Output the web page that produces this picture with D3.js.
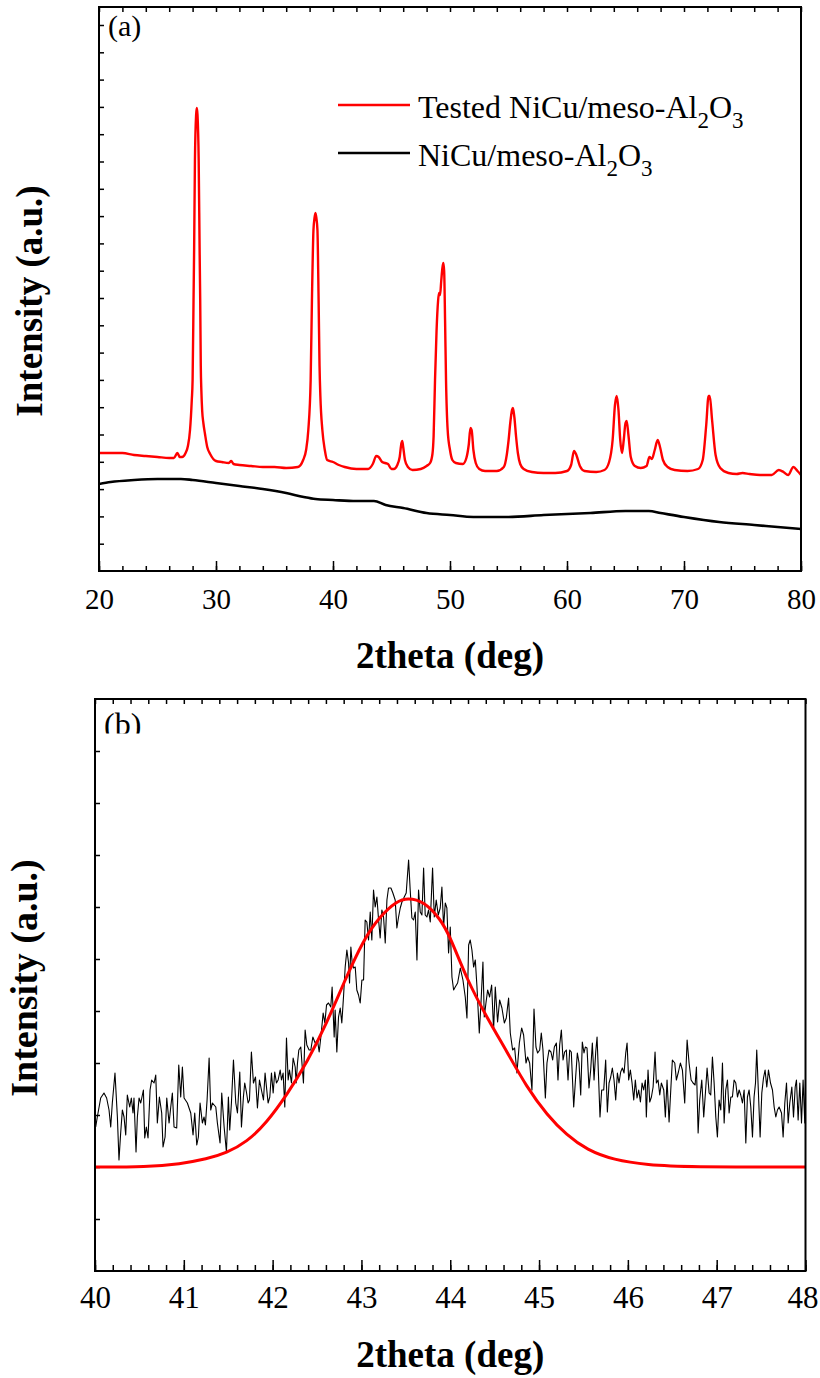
<!DOCTYPE html>
<html><head><meta charset="utf-8">
<script src="https://cdn.jsdelivr.net/npm/d3@7"></script>
<style>
body{margin:0;background:#fff}
svg{display:block}
text{font-family:"Liberation Serif","Times New Roman",serif;fill:#000}
</style>
</head><body>
<svg id="chart" width="820" height="1378"></svg>
<script>
// ---------- DATA ----------
const xTicksA = [20, 30, 40, 50, 60, 70, 80];
const xTicksB = [40, 41, 42, 43, 44, 45, 46, 47, 48];
const legendLabels = [
  {main: "Tested NiCu/meso-Al", color: "#ff0000"},
  {main: "NiCu/meso-Al", color: "#000000"}
];
const panelLabels = ["(a)", "(b)"];
const axisTitleX = "2theta (deg)";
const axisTitleY = "Intensity (a.u.)";

// Panel (a): XRD patterns, [2theta (deg), intensity (a.u.)]
const testedPattern = [
  [20.0,118],[21.0,118],[22.0,118],[23.0,116],[24.0,115],[25.0,114],[26.0,113],[26.4,113],[26.7,118],[26.9,114],
  [27.1,114],[27.4,118],[27.6,125],[27.78,141],[27.93,171],[28.0,191],[28.08,271],[28.13,321],[28.2,411],[28.3,456],
  [28.36,463],[28.42,456],[28.52,411],[28.6,321],[28.65,271],[28.7,205],[28.75,180],[28.82,160],[28.92,148],[29.06,137],
  [29.25,124],[29.5,117],
  [30.0,110],[30.5,109],[31.1,108],[31.3,110],[31.5,107],[32.0,106],[33.0,105],[34.0,104],[35.0,104],[36.0,103],
  [37.0,104],[37.45,111],[37.7,121],[37.89,141],[38.09,191],[38.2,271],[38.33,341],[38.42,353],[38.5,358],[38.58,353],
  [38.67,341],[38.77,271],[38.85,205],[38.92,175],[39.09,141],[39.3,121],[39.5,111],[40.0,109],[40.5,106],[41.0,104],[42.0,102],
  [43.0,102],[43.4,107],[43.7,115],[43.9,114],[44.2,109],[44.45,108],[44.7,107],[45.0,102],[45.2,102],[45.5,106],
  [45.7,114],[45.85,128],[45.92,130],[46.0,124],[46.15,111],[46.4,104],[46.8,101],[47.5,102],[48.0,105],[48.3,108],
  [48.5,117],[48.6,135],[48.72,191],[48.85,240],[48.98,270],[49.06,278],[49.15,276],[49.25,290],[49.35,303],[49.43,308],
  [49.5,300],[49.58,250],[49.66,191],[49.8,141],[50.0,121],[50.2,111],[50.5,108],[51.1,107],[51.4,113],[51.6,126],
  [51.75,143],[51.85,141],[52.0,121],[52.2,108],[52.5,102],[53.0,100],[54.0,100],[54.6,104],[54.85,116],[55.0,130],
  [55.15,148],[55.3,161],[55.38,163],[55.5,154],[55.65,134],[55.8,118],[56.0,107],[56.3,102],[57.0,99],[58.0,98],
  [59.0,98],[60.0,100],[60.35,106],[60.6,120],[60.8,116],[61.1,105],[61.5,100],[62.5,99],[63.2,101],[63.6,109],
  [63.9,131],[64.1,166],[64.25,175],[64.4,161],[64.55,131],[64.7,118],[64.85,131],[65.0,148],[65.1,150],[65.25,136],
  [65.45,114],[65.8,105],[66.3,103],[66.8,105],[67.05,114],[67.25,112],[67.5,121],[67.75,131],[67.95,124],[68.2,111],
  [68.6,104],[69.2,101],[70.3,100],[71.2,102],[71.6,111],[71.9,146],[72.1,175],[72.2,175],[72.4,151],[72.7,116],
  [73.1,103],[73.8,98],[74.5,97],[75.0,98],[75.6,97],[76.5,96],[77.5,96],[78.1,101],[78.5,99],[78.9,96],
  [79.35,104],[79.7,100],[80.0,96]
];

const freshPattern = [
  [20,87],[21,89],[23,91],[25,92],[27,92],[28,91],[30,88],[32,85],[34,82],[36,78],[37.5,74],[38.5,72],
  [40,71],[42,70],[43.5,70],[44.5,66],[46,63],[48,58],[50,56],[52,54],[55,54],[58,56],[62,58],[65,60],
  [67,60],[68,58],[70,54],[73,49],[76,46],[78,44],[80,42]
];

// Panel (b): detail scan 40-48 deg and Gaussian fit
const fitCurve = [
  [40.0,104],[40.58,104],[40.96,107],[41.26,112],[41.48,118],[41.71,129],[41.93,148],[42.16,176],[42.39,209],
  [42.61,248],[42.80,288],[43.02,331],[43.21,355],[43.40,370],[43.52,373],[43.70,370],[43.89,352],[44.00,334],
  [44.19,291],[44.41,254],[44.64,219],[44.86,184],[45.09,156],[45.31,136],[45.54,121],[45.84,111],[46.22,106],
  [46.67,104],[48.0,104]
];

const scanPattern = [
  [40.008,144],[40.026,154],[40.064,173],[40.101,178],[40.131,173],[40.158,161],[40.177,144],[40.195,168],[40.225,198],[40.252,154],
  [40.270,111],[40.289,138],[40.308,161],[40.327,154],[40.346,136],[40.364,176],[40.391,164],[40.409,173],[40.428,158],[40.439,173],
  [40.462,119],[40.477,154],[40.496,173],[40.515,168],[40.545,181],[40.560,133],[40.578,144],[40.597,133],[40.620,181],[40.638,191],
  [40.665,188],[40.684,196],[40.702,148],[40.725,174],[40.751,158],[40.766,124],[40.789,134],[40.808,173],[40.834,148],[40.853,164],
  [40.871,178],[40.890,144],[40.920,143],[40.943,206],[40.965,174],[40.984,204],[41.003,173],[41.040,168],[41.078,158],[41.104,136],
  [41.123,158],[41.146,126],[41.164,134],[41.183,168],[41.209,148],[41.228,154],[41.243,146],[41.262,171],[41.285,213],[41.303,161],
  [41.322,168],[41.360,164],[41.378,148],[41.408,128],[41.427,178],[41.454,144],[41.480,119],[41.502,174],[41.517,141],[41.536,168],
  [41.559,211],[41.585,168],[41.604,158],[41.630,199],[41.649,144],[41.671,174],[41.686,188],[41.705,179],[41.724,168],[41.739,171],
  [41.761,219],[41.784,188],[41.807,194],[41.829,163],[41.852,191],[41.874,181],[41.897,171],[41.915,198],[41.934,181],[41.949,168],
  [41.968,174],[41.987,198],[42.006,178],[42.024,199],[42.043,188],[42.062,191],[42.085,201],[42.100,191],[42.118,198],[42.137,164],
  [42.156,233],[42.175,191],[42.190,201],[42.212,188],[42.231,213],[42.254,204],[42.265,188],[42.280,208],[42.295,221],[42.317,224],
  [42.336,201],[42.347,188],[42.366,241],[42.385,226],[42.411,221],[42.430,221],[42.453,234],[42.479,228],[42.505,231],[42.524,219],
  [42.543,234],[42.569,258],[42.588,248],[42.607,266],[42.629,268],[42.655,264],[42.670,284],[42.693,234],
  [42.704,261],[42.723,219],[42.742,254],[42.761,263],[42.779,248],[42.798,274],[42.817,304],[42.836,321],[42.855,308],[42.866,288],
  [42.881,324],[42.896,308],[42.911,303],[42.930,304],[42.948,281],[42.967,276],[42.986,268],[43.005,291],[43.024,291],[43.042,351],
  [43.061,349],[43.080,331],[43.099,359],[43.117,331],[43.136,381],[43.155,364],[43.174,374],[43.193,351],[43.211,333],[43.230,361],
  [43.249,354],[43.268,328],[43.287,371],[43.305,383],[43.332,383],[43.354,378],[43.380,371],[43.399,343],[43.418,354],[43.437,363],
  [43.456,369],[43.482,374],[43.504,378],[43.531,411],[43.549,381],[43.568,353],[43.587,351],[43.606,359],[43.625,311],[43.643,381],
  [43.662,359],[43.681,356],[43.700,403],[43.718,356],[43.737,354],[43.756,361],[43.775,349],[43.801,403],[43.820,354],[43.842,371],
  [43.865,356],[43.887,363],[43.906,384],[43.925,344],[43.944,368],[43.962,363],[43.981,318],[44.000,344],[44.019,294],[44.038,281],
  [44.056,284],[44.083,288],[44.113,303],[44.143,291],[44.169,274],[44.188,253],[44.207,326],[44.225,331],[44.244,321],[44.263,304],
  [44.282,311],[44.301,284],[44.327,238],[44.346,268],[44.368,309],[44.383,254],[44.402,268],[44.421,281],[44.443,274],[44.466,286],
  [44.488,241],[44.507,284],[44.533,249],[44.556,271],[44.582,263],[44.609,248],[44.631,253],[44.657,273],[44.676,238],[44.702,221],
  [44.725,223],[44.751,198],[44.778,228],[44.804,243],[44.826,236],[44.853,208],[44.871,214],[44.894,208],[44.920,181],[44.943,262],
  [44.965,224],[44.984,218],[45.007,221],[45.025,238],[45.044,221],[45.071,173],[45.089,208],[45.112,221],[45.134,219],[45.153,211],
  [45.172,224],[45.195,228],[45.213,191],[45.232,226],[45.251,241],[45.270,211],[45.288,219],[45.307,221],
  [45.326,191],[45.345,221],[45.363,219],[45.390,164],[45.412,194],[45.431,218],[45.450,208],[45.469,176],[45.487,229],[45.506,218],
  [45.521,224],[45.540,223],[45.562,183],[45.581,201],[45.600,228],[45.619,191],[45.638,219],[45.653,234],[45.671,191],[45.686,154],
  [45.705,181],[45.728,181],[45.750,211],[45.769,159],[45.788,188],[45.807,194],[45.825,203],[45.844,191],[45.863,171],[45.882,198],
  [45.900,188],[45.919,199],[45.938,203],[45.957,198],[45.976,218],[45.991,228],[46.009,191],[46.028,201],[46.047,188],[46.066,171],
  [46.084,191],[46.103,173],[46.122,181],[46.141,169],[46.160,188],[46.178,181],[46.197,191],[46.208,154],[46.227,201],[46.246,169],
  [46.265,174],[46.284,184],[46.306,219],[46.321,188],[46.340,191],[46.359,176],[46.377,188],[46.404,181],[46.422,154],[46.441,191],
  [46.464,149],[46.483,181],[46.501,211],[46.528,208],[46.546,191],[46.569,199],[46.591,208],[46.614,201],[46.640,168],[46.667,231],
  [46.689,208],[46.712,191],[46.734,188],[46.757,186],[46.772,204],[46.791,138],[46.809,171],[46.832,191],[46.854,154],[46.873,178],
  [46.892,203],[46.915,178],[46.933,176],[46.952,214],[46.971,188],[46.990,154],[47.008,134],[47.027,171],[47.046,161],[47.065,208],
  [47.084,148],[47.102,181],[47.121,191],[47.140,158],[47.159,174],[47.177,174],[47.196,191],[47.215,188],[47.234,174],[47.253,181],
  [47.271,176],[47.290,168],[47.309,181],[47.328,128],[47.346,174],[47.365,181],[47.384,164],[47.403,134],[47.421,174],[47.437,188],
  [47.451,221],[47.470,178],[47.489,134],[47.508,178],[47.527,193],[47.545,201],[47.564,184],[47.583,201],[47.606,188],[47.628,181],
  [47.647,164],[47.666,154],[47.684,161],[47.703,164],[47.730,158],[47.748,134],[47.767,168],[47.786,188],[47.805,148],[47.823,168],
  [47.846,184],[47.865,154],[47.884,184],[47.898,191],[47.917,151],[47.936,188],[47.955,148],[47.973,191],[47.992,148],[48.0,191]
];

// ---------- DRAWING ----------
const svg = d3.select("#chart");
const FONT = '"Liberation Serif", "Times New Roman", serif';
const defs = svg.append("defs");

function styleAxis(g, fontSize) {
  g.select(".domain").remove();
  g.attr("font-family", null).attr("font-size", null);
  g.selectAll(".tick line").attr("stroke", "#000").attr("stroke-width", 1.5);
  g.selectAll("text").style("font-family", FONT).style("font-size", fontSize + "px").attr("fill", "#000");
}

function drawPanel(o) {
  const x = d3.scaleLinear().domain(o.xDomain).range([o.left, o.right]);
  const y = d3.scaleLinear().domain(o.yDomain).range([o.bottom, o.top]);
  const g = svg.append("g");
  const clipId = "clip" + o.id;
  defs.append("clipPath").attr("id", clipId)
    .append("rect").attr("x", o.left).attr("y", o.top)
    .attr("width", o.right - o.left).attr("height", o.bottom - o.top);

  g.append("g").attr("transform", `translate(0,${o.bottom})`)
    .call(d3.axisBottom(x).tickValues(o.minorX).tickSize(-o.minorLen).tickFormat(""))
    .call(a => styleAxis(a, o.tickFont));
  g.append("g").attr("transform", `translate(0,${o.bottom})`)
    .call(d3.axisBottom(x).tickValues(o.majorX).tickSize(-o.majorLen).tickFormat(d3.format("d")))
    .call(a => styleAxis(a, o.tickFont))
    .call(a => a.selectAll("text").attr("y", o.labelOffset).attr("dy", null)
      .attr("dx", (d, i, n) => i === n.length - 1 ? o.lastDx : 0));
  g.append("g").attr("transform", `translate(0,${o.top})`)
    .call(d3.axisTop(x).tickValues(o.minorX).tickSize(-o.topLen).tickFormat(""))
    .call(a => styleAxis(a, o.tickFont));
  g.append("g").attr("transform", `translate(${o.left},0)`)
    .call(d3.axisLeft(y).tickValues(o.yTicks).tickSize(-o.topLen).tickFormat(""))
    .call(a => styleAxis(a, o.tickFont));

  const plot = g.append("g").attr("clip-path", `url(#${clipId})`);
  o.series.forEach(s => {
    const line = d3.line().x(d => x(d[0])).y(d => y(d[1])).curve(s.curve);
    plot.append("path").datum(s.data)
      .attr("fill", "none").attr("stroke", s.color)
      .attr("stroke-width", s.width).attr("stroke-linejoin", "round")
      .attr("d", line);
  });

  g.append("rect").attr("x", o.left).attr("y", o.top)
    .attr("width", o.right - o.left).attr("height", o.bottom - o.top)
    .attr("fill", "none").attr("stroke", "#000").attr("stroke-width", 2);

  const tagClip = "tagclip" + o.id;
  defs.append("clipPath").attr("id", tagClip)
    .append("rect").attr("x", o.left).attr("y", o.top)
    .attr("width", 100).attr("height", o.tagClipH);
  g.append("text").attr("x", o.left + o.tagDx).attr("y", o.tagY)
    .attr("clip-path", `url(#${tagClip})`)
    .style("font-size", o.tagFont + "px").text(o.tag);

  g.append("text").attr("x", (o.left + o.right) / 2).attr("y", o.titleY)
    .attr("text-anchor", "middle").style("font-size", "37px").attr("font-weight", "bold")
    .text(axisTitleX);
  g.append("text").attr("transform", `translate(${o.yTitleX},${o.yTitleY}) rotate(-90)`)
    .attr("text-anchor", "middle").style("font-size", o.yTitleFont + "px").attr("font-weight", "bold")
    .text(axisTitleY);
  return {x, y, g};
}

const pa = drawPanel({
  id: "a", xDomain: [20, 80], yDomain: [0, 564],
  left: 99, right: 801, top: 7, bottom: 571,
  majorX: xTicksA, minorX: d3.range(20, 81, 2),
  yTicks: d3.range(1, 21).map(k => k * 27.3),
  majorLen: 10, minorLen: 5, topLen: 5,
  tickFont: 29, labelOffset: 38, lastDx: 0,
  tag: panelLabels[0], tagDx: 9, tagY: 36, tagFont: 30, tagClipH: 60,
  titleY: 668, yTitleX: 42, yTitleY: 301, yTitleFont: 37,
  series: [
    {data: freshPattern, color: "#000", width: 2.6, curve: d3.curveMonotoneX},
    {data: testedPattern, color: "#ff0000", width: 2.4, curve: d3.curveMonotoneX}
  ]
});

const leg = pa.g.append("g");
[105, 153].forEach((ly, i) => {
  leg.append("line").attr("x1", 338).attr("x2", 410).attr("y1", ly).attr("y2", ly)
    .attr("stroke", legendLabels[i].color).attr("stroke-width", 2.5);
  const t = leg.append("text").attr("x", 418).attr("y", ly + 13).style("font-size", "32px");
  t.append("tspan").text(legendLabels[i].main);
  t.append("tspan").style("font-size", "23px").attr("dy", 10).text("2");
  t.append("tspan").attr("dy", -10).text("O");
  t.append("tspan").style("font-size", "23px").attr("dy", 10).text("3");
});

drawPanel({
  id: "b", xDomain: [40, 48], yDomain: [0, 572],
  left: 95, right: 805.5, top: 699, bottom: 1271,
  majorX: xTicksB, minorX: d3.range(40, 48.01, 0.2),
  yTicks: d3.range(1, 11).map(k => k * 52),
  majorLen: 11, minorLen: 6, topLen: 5,
  tickFont: 31, labelOffset: 37, lastDx: -3,
  tag: panelLabels[1], tagDx: 9, tagY: 735, tagFont: 32, tagClipH: 34.5,
  titleY: 1367, yTitleX: 37, yTitleY: 978, yTitleFont: 38,
  series: [
    {data: scanPattern, color: "#000", width: 1.1, curve: d3.curveLinear},
    {data: fitCurve, color: "#ff0000", width: 3, curve: d3.curveBasis}
  ]
});
</script>
</body></html>
